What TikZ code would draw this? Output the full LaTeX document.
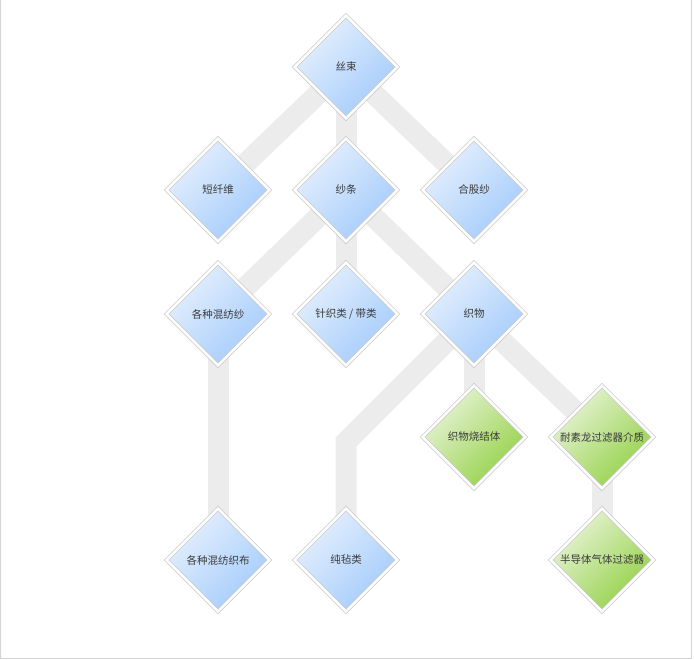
\documentclass[tikz,border=0pt]{standalone}
\usepackage{fontspec}
\newfontfamily\cjk{Noto Sans CJK SC}
\usetikzlibrary{shapes.geometric,shadows,backgrounds}
\definecolor{bandgray}{HTML}{ECECEC}
\definecolor{framegray}{HTML}{D4D4D4}
\definecolor{rimgray}{HTML}{C9C9C9}
\definecolor{bluelight}{HTML}{E6F0FD}
\definecolor{bluedark}{HTML}{A3CBFB}
\definecolor{greenlight}{HTML}{E8F4D8}
\definecolor{greendark}{HTML}{93D045}
\definecolor{labelgray}{HTML}{3A3A3A}

\begin{document}
\begin{tikzpicture}[x=1pt,y=-1pt,
    gem/.style={diamond,minimum width=103pt,minimum height=103pt,inner sep=0pt,
      draw=rimgray,double=white,double distance=2.6pt,line width=0.6pt,
      drop shadow={opacity=0.12,shadow xshift=0pt,shadow yshift=-3pt},
      font=\cjk\fontsize{10.5}{12}\selectfont,text=labelgray},
    bluegem/.style={gem,top color=bluelight,bottom color=bluedark,shading angle=45},
    greengem/.style={gem,top color=greenlight,bottom color=greendark,shading angle=45},
    band/.style={draw=bandgray,line width=21pt}]
    \useasboundingbox (0,0) rectangle (694,660);
    % frame
    \draw[framegray,line width=1pt] (0.5,0) -- (0.5,658.5) -- (691.5,658.5) -- (691.5,0);

    % row 1 and 2
    \node[bluegem] (silk) at (346,67) {丝束};
    \node[bluegem] (staple) at (218,190) {短纤维};
    \node[bluegem] (sliver) at (346,190) {纱条};
    \node[bluegem] (plied) at (474,190) {合股纱};
    % row 3
    \node[bluegem] (blendyarn) at (218,314) {各种混纺纱};
    \node[bluegem] (knit) at (346,314) {针织类 / 带类};
    \node[bluegem] (fabric) at (474,314) {织物};
    % row 4
    \node[greengem] (sinter) at (474,437) {织物烧结体};
    \node[greengem] (media) at (602,437) {耐素龙过滤器介质};
    % row 5
    \node[bluegem] (blendcloth) at (218,560) {各种混纺织布};
    \node[bluegem] (felt) at (346,560) {纯毡类};
    \node[greengem] (semifilter) at (602,560) {半导体气体过滤器};
    \coordinate (kink) at (346,442);

    % bands
    \begin{scope}[on background layer]
      \draw[band] (silk.center) -- (staple.center);
      \draw[band] (silk.center) -- (sliver.center);
      \draw[band] (silk.center) -- (plied.center);
      \draw[band] (sliver.center) -- (blendyarn.center);
      \draw[band] (sliver.center) -- (knit.center);
      \draw[band] (sliver.center) -- (fabric.center);
      \draw[band] (blendyarn.center) -- (blendcloth.center);
      \draw[band] (fabric.center) -- (kink) -- (felt.center);
      \draw[band] (fabric.center) -- (sinter.center);
      \draw[band] (fabric.center) -- (media.center);
      \draw[band] (media.center) -- (semifilter.center);
    \end{scope}
\end{tikzpicture}
\end{document}
